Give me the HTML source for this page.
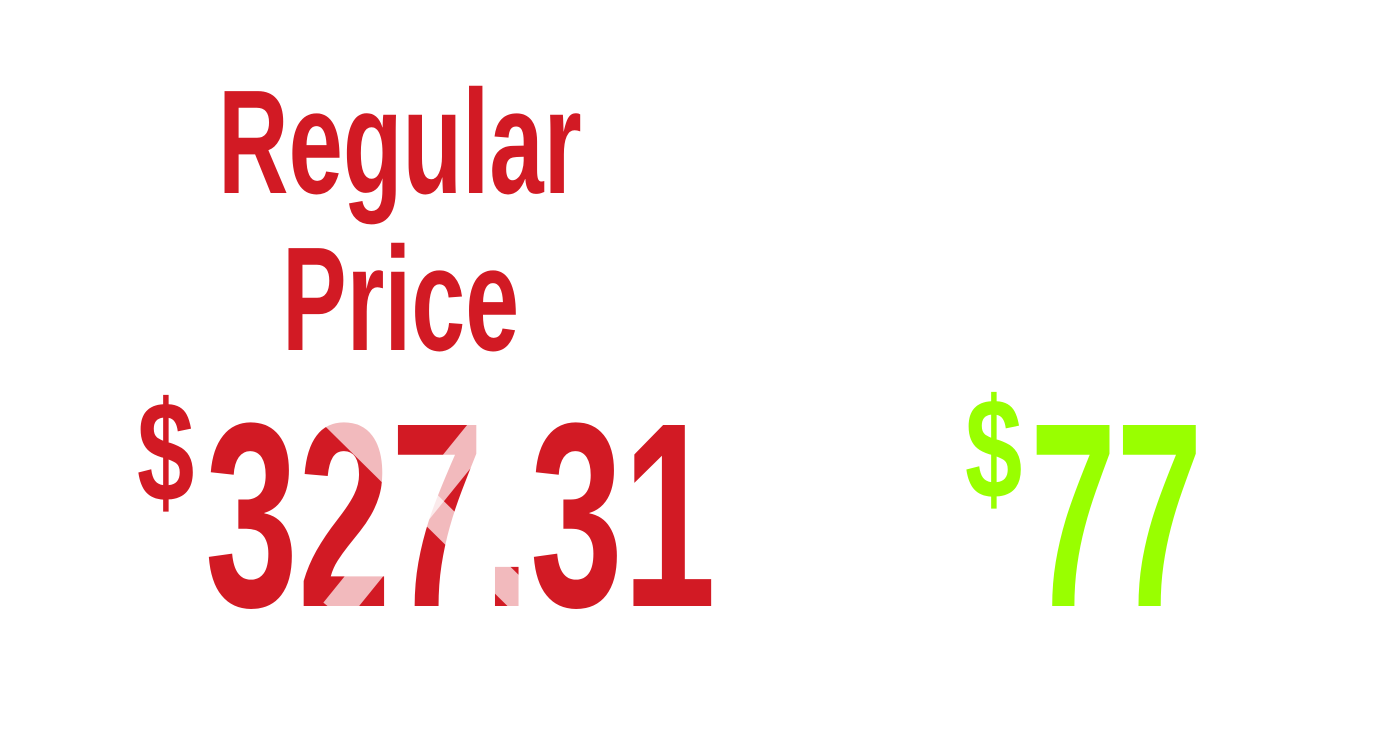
<!DOCTYPE html>
<html><head><meta charset="utf-8"><style>
body{margin:0;width:1376px;height:737px;background:#fff;position:relative;overflow:hidden;font-family:"Liberation Sans",sans-serif;font-weight:bold}
.t{position:absolute;line-height:1;white-space:nowrap;transform-origin:0 0}
.r{color:#d21a24}.g{color:#99ff00}
</style></head><body>
<div class="t r" style="font-size:148px;left:218px;top:69px;transform:scaleX(0.66)">Regular</div>
<div class="t r" style="font-size:148px;left:282px;top:226px;transform:scaleX(0.655)">Price</div>
<div class="t r" style="font-size:143px;left:137px;top:381px;transform:scaleX(0.72)">$</div>
<div class="t r" style="font-size:263px;left:205px;top:384px;transform:scaleX(0.635)">327.31</div>
<svg width="1376" height="737" style="position:absolute;left:0;top:0">
<line x1="335" y1="415" x2="535" y2="612" stroke="#fff" stroke-opacity="0.7" stroke-width="30"/>
<line x1="492" y1="418" x2="335" y2="612" stroke="#fff" stroke-opacity="0.7" stroke-width="30"/>
</svg>
<div class="t g" style="font-size:143px;left:965px;top:378px;transform:scaleX(0.72)">$</div>
<div class="t g" style="font-size:263px;left:1030px;top:384px;transform:scaleX(0.59)">77</div>
</body></html>
